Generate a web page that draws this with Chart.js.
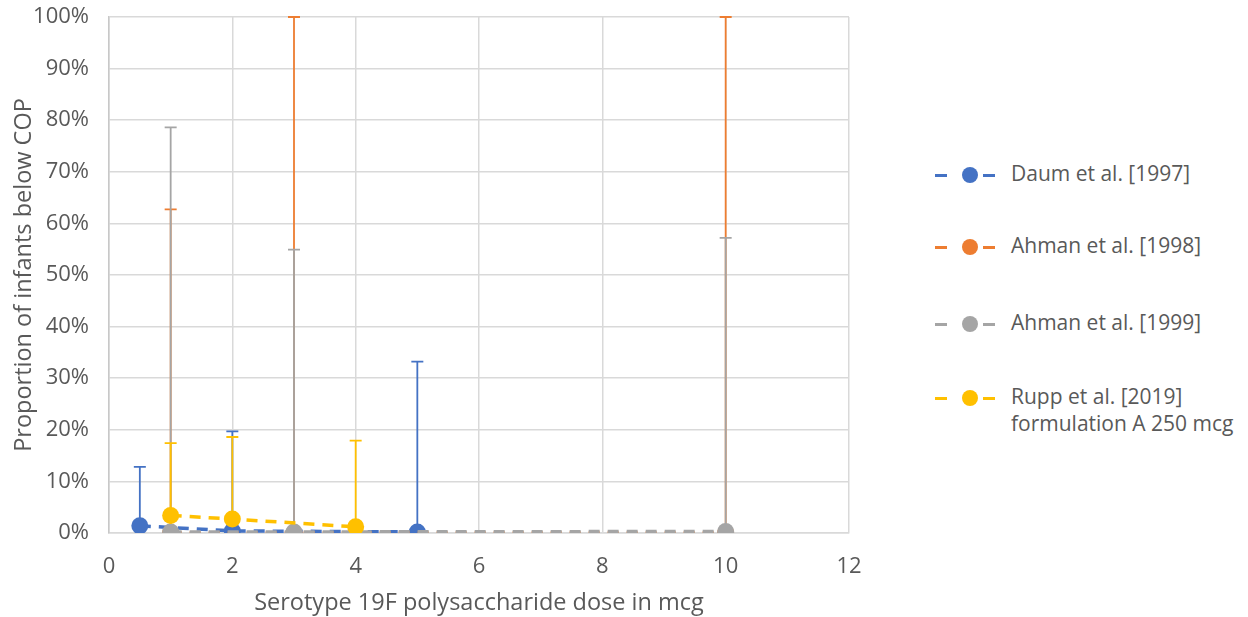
<!DOCTYPE html>
<html>
<head>
<meta charset="utf-8">
<title>Serotype 19F dose vs proportion below COP</title>
<script src="https://cdn.jsdelivr.net/npm/chart.js@4.4.1/dist/chart.umd.min.js"></script>
<style>
  html, body { margin: 0; padding: 0; background: #fff; }
  #wrap { position: relative; width: 1248px; height: 617px; }
  #box { position: absolute; left: 0; top: 0; width: 900px; height: 617px; }
  #legend { position: absolute; left: 935px; top: 0; font-family: "Open Sans", sans-serif; font-size: 21px; color: #595959; }
  .item { position: absolute; left: 0; white-space: nowrap; }
  .mark { position: absolute; left: 0; width: 60px; height: 16px; }
  .mark i { position: absolute; display: block; }
  .dash { top: 6.5px; width: 12px; height: 3px; }
  .dot { top: 0; left: 27px; width: 16px; height: 16px; border-radius: 50%; }
  .txt { position: absolute; left: 76px; top: -7px; line-height: 27px; }
</style>
</head>
<body>
<div id="wrap">
  <div id="box"><canvas id="chart"></canvas></div>
  <div id="legend"></div>
</div>
<script>
// series labels and colours (Excel default palette)
const seriesNames = ['Daum et al. [1997]', 'Ahman et al. [1998]', 'Ahman et al. [1999]', 'Rupp et al. [2019]\nformulation A 250 mcg'];
const seriesColors = ['#4472C4', '#ED7D31', '#A5A5A5', '#FFC000'];

// dose (mcg), proportion below COP, upper end of the error bar
const daumDose = [0.5, 2, 5];
const daumValue = [0.014, 0.004, 0.002];
const daumUpper = [0.128, 0.197, 0.332];

const ahman98Dose = [1, 3, 10];
const ahman98Value = [0, 0, 0];
const ahman98Upper = [0.627, 1.0, 1.0];

const ahman99Dose = [1, 3, 10];
const ahman99Value = [0.002, 0.002, 0.003];
const ahman99Upper = [0.786, 0.549, 0.572];

const ruppDose = [1, 2, 4];
const ruppValue = [0.034, 0.027, 0.012];
const ruppUpper = [0.174, 0.186, 0.179];

// axis settings
const xMin = 0, xMax = 12, xStep = 2;
const yMin = 0, yMax = 1, yStep = 0.1;
const xTitle = 'Serotype 19F polysaccharide dose in mcg';
const yTitle = 'Proportion of infants below COP';

const FONT = '"Open Sans", sans-serif';
const TEXT = '#595959';
const GRID = '#d9d9d9';

function points(doses, values, uppers) {
  return doses.map((d, i) => ({ x: d, y: values[i], upper: uppers[i] }));
}

const seriesData = [
  points(daumDose, daumValue, daumUpper),
  points(ahman98Dose, ahman98Value, ahman98Upper),
  points(ahman99Dose, ahman99Value, ahman99Upper),
  points(ruppDose, ruppValue, ruppUpper)
];

// upper error bars, drawn under the lines, in series order
const errorBars = {
  id: 'errorBars',
  beforeDatasetsDraw(chart) {
    const { ctx, scales: { x, y } } = chart;
    ctx.save();
    chart.data.datasets.forEach((ds, i) => {
      if (!chart.isDatasetVisible(i)) return;
      ctx.strokeStyle = ds.borderColor;
      ctx.lineWidth = 1.8;
      ctx.setLineDash([]);
      ds.data.forEach(pt => {
        const px = x.getPixelForValue(pt.x);
        const py = y.getPixelForValue(pt.y);
        const pu = y.getPixelForValue(pt.upper);
        ctx.beginPath();
        ctx.moveTo(px, py);
        ctx.lineTo(px, pu);
        ctx.moveTo(px - 6, pu);
        ctx.lineTo(px + 6, pu);
        ctx.stroke();
      });
    });
    ctx.restore();
  }
};

const datasets = seriesData.map((data, i) => ({
  label: seriesNames[i],
  data,
  showLine: true,
  borderColor: seriesColors[i],
  backgroundColor: seriesColors[i],
  borderWidth: 3.5,
  borderDash: [11, 8],
  pointRadius: 8.5,
  pointHoverRadius: 8.5,
  pointBorderWidth: 0,
  order: seriesData.length - i   // later series on top, like Excel
}));

new Chart(document.getElementById('chart'), {
  type: 'scatter',
  data: { datasets },
  options: {
    responsive: true,
    maintainAspectRatio: false,
    animation: false,
    layout: { padding: { left: 6, top: 17, right: 51, bottom: 0 } },
    plugins: {
      legend: { display: false },
      tooltip: { enabled: false }
    },
    scales: {
      x: {
        type: 'linear',
        min: xMin, max: xMax,
        ticks: { stepSize: xStep, color: TEXT, font: { family: FONT, size: 22 }, padding: 21 },
        grid: { color: GRID, lineWidth: 1.5, drawTicks: false },
        border: { color: GRID, width: 1.5 },
        title: { display: true, text: xTitle, color: TEXT, padding: 0, font: { family: FONT, size: 23.5 } },
        afterFit(scale) { scale.height = 84; scale.paddingLeft = 0; scale.paddingRight = 0; scale.paddingBottom = 0; }
      },
      y: {
        min: yMin, max: yMax,
        ticks: {
          stepSize: yStep, color: TEXT, font: { family: FONT, size: 22 }, padding: 20,
          callback: v => Math.round(v * 100) + '%'
        },
        grid: { color: GRID, lineWidth: 1.5, drawTicks: false },
        border: { color: '#c8c8c8', width: 1.5 },
        title: { display: true, text: yTitle, color: TEXT, font: { family: FONT, size: 23.5 } },
        afterFit(scale) { scale.width = 103; scale.paddingTop = 0; scale.paddingBottom = 0; }
      }
    }
  },
  plugins: [errorBars]
});

// legend built from the same series lists
const legendTops = [167, 239, 316, 390];
const legend = document.getElementById('legend');
seriesNames.forEach((name, i) => {
  const c = seriesColors[i];
  const item = document.createElement('div');
  item.className = 'item';
  item.style.top = legendTops[i] + 'px';
  item.innerHTML =
    '<span class="mark">' +
    '<i class="dash" style="left:0;background:' + c + '"></i>' +
    '<i class="dot" style="background:' + c + '"></i>' +
    '<i class="dash" style="left:48px;background:' + c + '"></i>' +
    '</span>' +
    '<span class="txt">' + name.split('\n').join('<br>') + '</span>';
  legend.appendChild(item);
});
</script>
</body>
</html>
